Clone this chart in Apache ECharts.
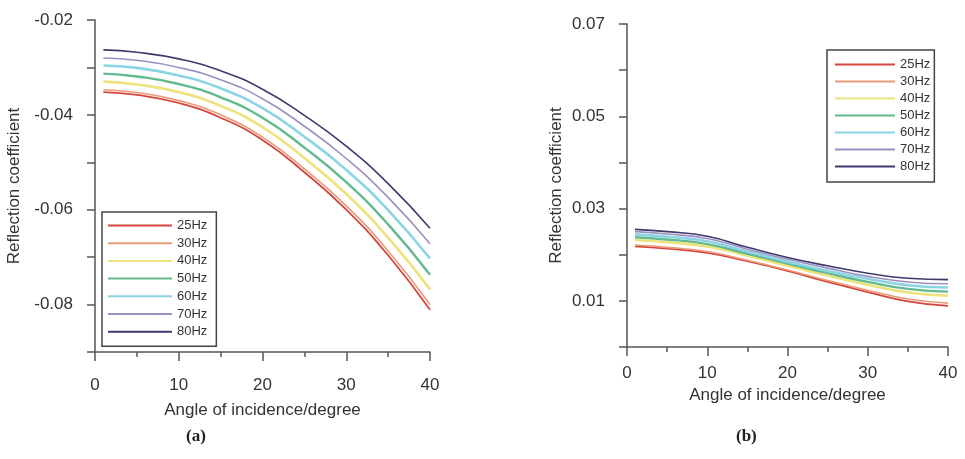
<!DOCTYPE html>
<html>
<head>
<meta charset="utf-8">
<script src="https://cdn.jsdelivr.net/npm/echarts@6/dist/echarts.min.js"></script>
<style>
  html, body { margin: 0; padding: 0; background: #fff; }
  #chart { width: 965px; height: 459px; }
</style>
</head>
<body>
<div id="chart"></div>
<script>
// Angles of incidence (degrees) at which the curves are sampled
const angles = [1, 5, 10, 15, 20, 25, 30, 35, 40];
const freqNames = ['25Hz', '30Hz', '40Hz', '50Hz', '60Hz', '70Hz', '80Hz'];

// Panel (a): reflection coefficient per frequency
const a25 = [-0.0352, -0.0358, -0.0375, -0.0406, -0.0453, -0.0521, -0.0600, -0.0696, -0.0811];
const a30 = [-0.0347, -0.0353, -0.0370, -0.0400, -0.0447, -0.0514, -0.0592, -0.0687, -0.0800];
const a40 = [-0.0330, -0.0336, -0.0352, -0.0381, -0.0426, -0.0491, -0.0567, -0.0659, -0.0768];
const a50 = [-0.0313, -0.0319, -0.0335, -0.0363, -0.0406, -0.0469, -0.0542, -0.0631, -0.0737];
const a60 = [-0.0296, -0.0301, -0.0317, -0.0344, -0.0386, -0.0446, -0.0516, -0.0601, -0.0703];
const a70 = [-0.0280, -0.0285, -0.0300, -0.0326, -0.0366, -0.0424, -0.0492, -0.0574, -0.0672];
const a80 = [-0.0263, -0.0268, -0.0282, -0.0307, -0.0346, -0.0401, -0.0466, -0.0545, -0.0639];

// Panel (b): reflection coefficient per frequency
const b25 = [0.0218, 0.0213, 0.0204, 0.0186, 0.0165, 0.0141, 0.0119, 0.0099, 0.0089];
const b30 = [0.0221, 0.0216, 0.0207, 0.0188, 0.0167, 0.0144, 0.0123, 0.0104, 0.0095];
const b40 = [0.0232, 0.0227, 0.0218, 0.0198, 0.0176, 0.0155, 0.0135, 0.0118, 0.0111];
const b50 = [0.0238, 0.0233, 0.0223, 0.0202, 0.0181, 0.0160, 0.0141, 0.0126, 0.0120];
const b60 = [0.0244, 0.0239, 0.0229, 0.0207, 0.0185, 0.0165, 0.0148, 0.0134, 0.0129];
const b70 = [0.0250, 0.0245, 0.0235, 0.0212, 0.0190, 0.0171, 0.0153, 0.0141, 0.0137];
const b80 = [0.0255, 0.0250, 0.0240, 0.0216, 0.0194, 0.0176, 0.0160, 0.0149, 0.0146];

const panelA = [a25, a30, a40, a50, a60, a70, a80];
const panelB = [b25, b30, b40, b50, b60, b70, b80];

const colors = ['#d6453d', '#e99a7a', '#eee27c', '#62ba8e', '#8ad4e6', '#9c90c0', '#3e3a6e'];
const widths = [1.8, 1.6, 2.6, 2.4, 2.6, 1.6, 1.6];

const FONT = '"Liberation Sans", Arial, sans-serif';
const axisColor = '#555';
const labelStyle = { fontFamily: FONT, fontSize: 17, color: '#333' };

function xAxisDef(gridIndex, labelMargin, nameGap) {
  return {
    type: 'value', gridIndex, min: 0, max: 40, interval: 10,
    name: 'Angle of incidence/degree', nameLocation: 'middle', nameGap,
    nameTextStyle: { fontFamily: FONT, fontSize: 17, color: '#333' },
    axisLine: { onZero: false, lineStyle: { color: axisColor, width: 1.5 } },
    axisTick: { show: true, inside: false, length: 9, lineStyle: { color: axisColor, width: 1.5 } },
    minorTick: { show: true, splitNumber: 2, length: 5, lineStyle: { color: axisColor, width: 1.5 } },
    axisLabel: { ...labelStyle, margin: labelMargin },
    splitLine: { show: false }
  };
}

function yAxisDef(gridIndex, min, max, showOdd, nameGap) {
  return {
    type: 'value', gridIndex, min, max, interval: 0.01,
    name: 'Reflection coefficient', nameLocation: 'middle', nameGap, nameRotate: 90,
    nameTextStyle: { fontFamily: FONT, fontSize: 17, color: '#333' },
    axisLine: { onZero: false, lineStyle: { color: axisColor, width: 1.5 } },
    axisTick: { show: true, inside: false, length: 8, lineStyle: { color: axisColor, width: 1.5 } },
    axisLabel: {
      ...labelStyle, margin: 22,
      formatter: v => {
        const k = Math.round(v * 100);
        const odd = Math.abs(k) % 2 === 1;
        return (odd === showOdd) ? v.toFixed(2) : '';
      }
    },
    splitLine: { show: false }
  };
}

function legendDef(left, top, itemWidth, itemGap, padding) {
  return {
    orient: 'vertical', left, top,
    data: freqNames,
    icon: 'rect',
    itemWidth, itemHeight: 2, itemGap,
    borderColor: '#444', borderWidth: 1.5, borderRadius: 0,
    padding,
    textStyle: { fontFamily: FONT, fontSize: 13, color: '#333' },
    selectedMode: false
  };
}

const series = [];
function addPanel(values, axisIndex) {
  values.forEach((vals, i) => {
    series.push({
      name: freqNames[i], type: 'line', xAxisIndex: axisIndex, yAxisIndex: axisIndex,
      data: angles.map((a, j) => [a, vals[j]]),
      smooth: 0.5, symbol: 'none',
      lineStyle: { color: colors[i], width: widths[i] }, itemStyle: { color: colors[i] }
    });
  });
}
addPanel(panelA, 0);
addPanel(panelB, 1);

const chart = echarts.init(document.getElementById('chart'), null, { renderer: 'canvas' });
chart.setOption({
  animation: false,
  backgroundColor: '#fff',
  color: colors,
  grid: [
    { left: 95, right: 535, top: 20, bottom: 107 },
    { left: 627, right: 17, top: 24, bottom: 112 }
  ],
  xAxis: [xAxisDef(0, 25, 50), xAxisDef(1, 18, 37)],
  yAxis: [yAxisDef(0, -0.09, -0.02, false, 72), yAxisDef(1, 0, 0.07, true, 62)],
  legend: [
    legendDef(102, 212, 64, 4.7, [7, 9, 8, 6]),
    legendDef(827, 50, 60, 4.0, [8, 4, 9, 8])
  ],
  graphic: [
    { type: 'text', left: 186, top: 428,
      style: { text: '(a)', font: 'bold 17px "Liberation Serif", "Times New Roman", serif', fill: '#222' } },
    { type: 'text', left: 736, top: 428,
      style: { text: '(b)', font: 'bold 17px "Liberation Serif", "Times New Roman", serif', fill: '#222' } }
  ],
  series
});
</script>
</body>
</html>
